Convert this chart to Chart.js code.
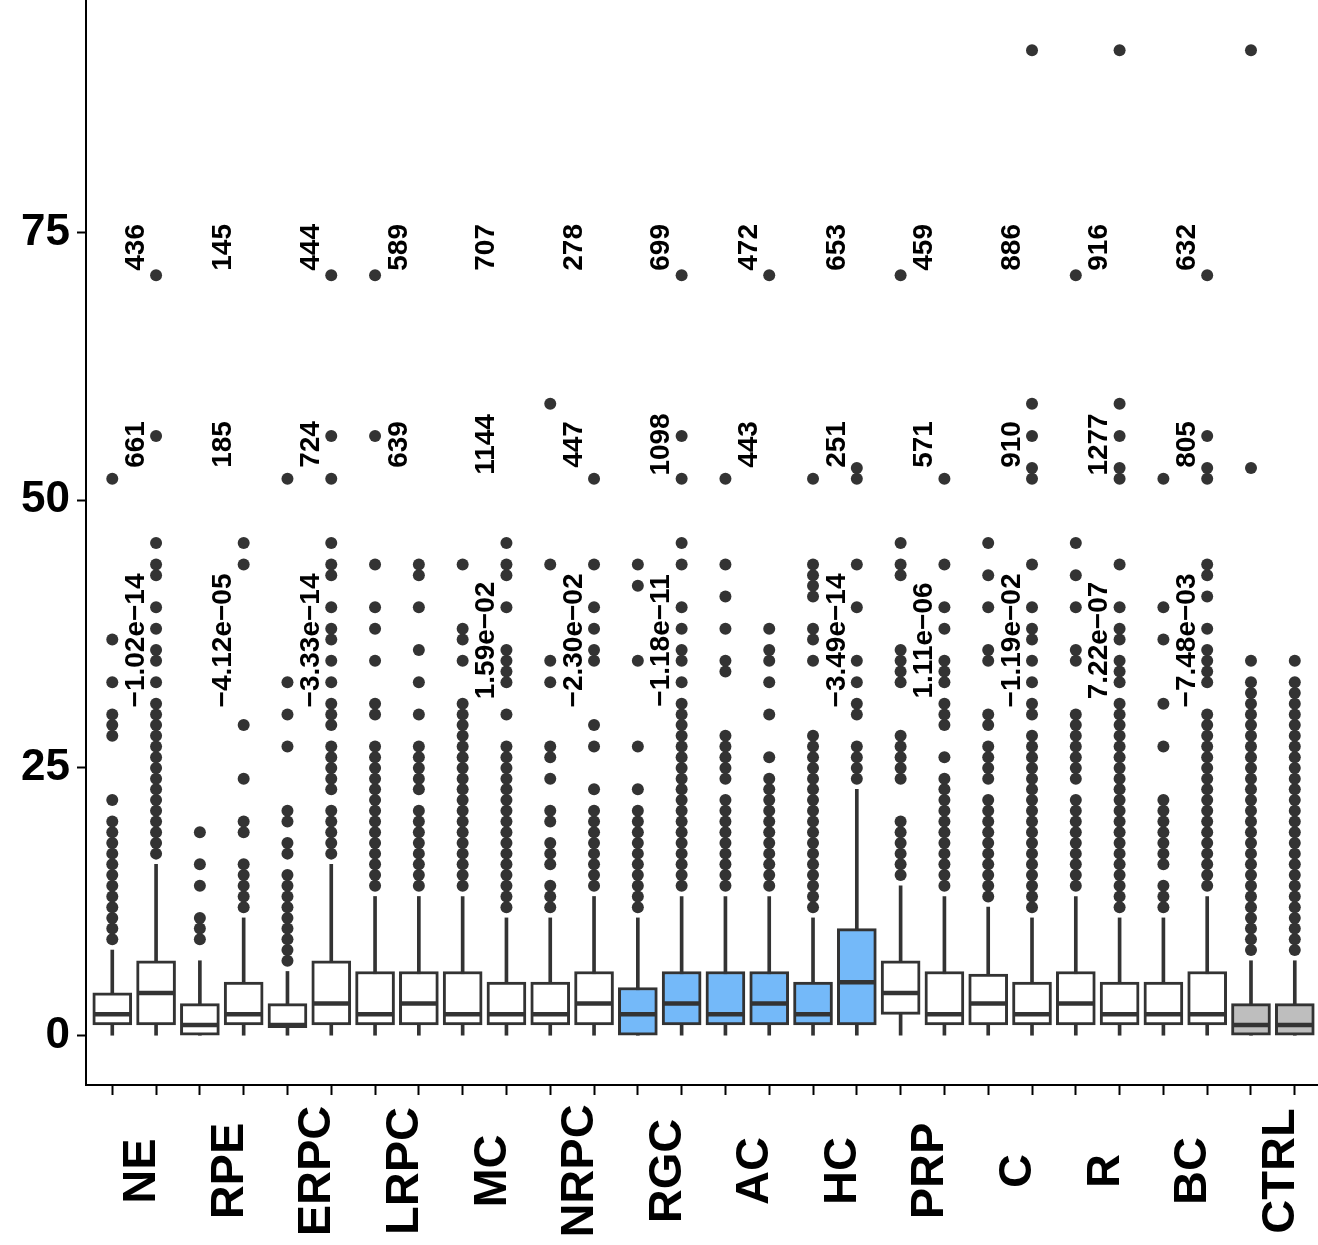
<!DOCTYPE html>
<html>
<head>
<meta charset="utf-8">
<script src="https://cdn.jsdelivr.net/npm/chart.js@4.4.0/dist/chart.umd.min.js"></script>
<style>
  html, body { margin: 0; padding: 0; background: #fff; }
  #wrap { width: 1318px; height: 1245px; }
</style>
</head>
<body>
<div id="wrap"><canvas id="boxChart" width="1318" height="1245"></canvas></div>
<script>
// Categories (each has two boxes)
const categories = ['NE', 'RPE', 'ERPC', 'LRPC', 'MC', 'NRPC', 'RGC', 'AC', 'HC', 'PRP', 'C', 'R', 'BC', 'CTRL'];

// Annotations per category
const countTop = [436, 145, 444, 589, 707, 278, 699, 472, 653, 459, 886, 916, 632, null];
const countMid = [661, 185, 724, 639, 1144, 447, 1098, 443, 251, 571, 910, 1277, 805, null];
const pLabels = ['\u22121.02e\u221214', '\u22124.12e\u221205', '\u22123.33e\u221214', null, '1.59e\u221202',
  '\u22122.30e\u221202', '\u22121.18e\u221211', null, '\u22123.49e\u221214', '1.11e\u221206',
  '\u22121.19e\u221202', '7.22e\u221207', '\u22127.48e\u221203', null];

// Box statistics, 28 boxes (two per category)
const whiskerLo = [0, 0, 0, 0, 0, 0, 0, 0, 0, 0, 0, 0, 0, 0, 0, 0, 0, 0, 0, 0, 0, 0, 0, 0, 0, 0, 0, 0];
const q1 =        [1, 1, 0, 1, 0.75, 1, 1, 1, 1, 1, 1, 1, 0, 1, 1, 1, 1, 1, 2, 1, 1, 1, 1, 1, 1, 1, 0, 0];
const medians =   [2, 4, 1, 2, 1, 3, 2, 3, 2, 2, 2, 3, 2, 3, 2, 3, 2, 5, 4, 2, 3, 2, 3, 2, 2, 2, 1, 1];
const q3 =        [4, 7, 3, 5, 3, 7, 6, 6, 6, 5, 5, 6, 4.5, 6, 6, 6, 5, 10, 7, 6, 5.75, 5, 6, 5, 5, 6, 3, 3];
const whiskerHi = [8, 16, 7, 11, 6, 16, 13, 13, 13, 11, 11, 13, 11, 13, 13, 13, 11, 23, 14, 13, 12, 11, 13, 11, 11, 13, 7, 7];
const boxGroup =  ['w', 'w', 'w', 'w', 'w', 'w', 'w', 'w', 'w', 'w', 'w', 'w', 'b', 'b', 'b', 'b', 'b', 'b',
  'w', 'w', 'w', 'w', 'w', 'w', 'w', 'w', 'g', 'g'];

const outliers = [
  [9, 10, 11, 12, 13, 14, 15, 16, 17, 18, 19, 20, 22, 28, 29, 30, 33, 37, 52],
  [17, 18, 19, 20, 21, 22, 23, 24, 25, 26, 27, 28, 29, 30, 31, 33, 35, 36, 38, 40, 43, 44, 46, 56, 71],
  [9, 10, 11, 14, 16, 19],
  [12, 13, 14, 15, 16, 19, 20, 24, 29, 44, 46],
  [7, 8, 9, 10, 11, 12, 13, 14, 15, 17, 18, 20, 21, 27, 30, 33, 52],
  [17, 18, 19, 20, 21, 23, 24, 25, 26, 27, 29, 30, 31, 33, 35, 37, 38, 40, 43, 44, 46, 52, 56, 71],
  [14, 15, 16, 17, 18, 19, 20, 21, 22, 23, 24, 25, 26, 27, 30, 31, 35, 38, 40, 44, 56, 71],
  [14, 15, 16, 17, 18, 19, 20, 21, 23, 24, 25, 26, 27, 30, 33, 36, 40, 43, 44],
  [14, 15, 16, 17, 18, 19, 20, 21, 22, 23, 24, 25, 26, 27, 28, 29, 30, 31, 35, 37, 38, 44],
  [12, 13, 14, 15, 16, 17, 18, 19, 20, 21, 22, 23, 24, 25, 26, 27, 30, 33, 34, 35, 36, 40, 43, 44, 46],
  [12, 13, 14, 16, 17, 18, 20, 21, 24, 26, 27, 33, 35, 44, 59],
  [14, 15, 16, 17, 18, 19, 20, 21, 23, 27, 29, 35, 36, 38, 40, 44, 52],
  [12, 13, 14, 15, 16, 17, 18, 19, 20, 21, 23, 27, 35, 42, 44],
  [14, 15, 16, 17, 18, 19, 20, 21, 22, 23, 24, 25, 26, 27, 28, 29, 30, 31, 33, 35, 36, 38, 40, 44, 46, 52, 56, 71],
  [14, 15, 16, 17, 18, 19, 20, 21, 22, 24, 25, 26, 27, 28, 34, 35, 38, 41, 44, 52],
  [14, 15, 16, 17, 18, 19, 20, 21, 22, 23, 24, 26, 30, 33, 35, 36, 38, 71],
  [12, 13, 14, 15, 16, 17, 18, 19, 20, 21, 22, 23, 24, 25, 26, 27, 28, 35, 37, 38, 41, 42, 43, 44, 52],
  [24, 25, 26, 27, 30, 31, 33, 35, 40, 44, 52, 53],
  [15, 16, 17, 18, 19, 20, 24, 25, 26, 27, 28, 33, 34, 35, 36, 43, 44, 46, 71],
  [14, 15, 16, 17, 18, 19, 20, 21, 22, 23, 24, 26, 29, 30, 31, 33, 34, 35, 38, 40, 44, 52],
  [13, 14, 15, 16, 17, 18, 19, 20, 21, 22, 24, 25, 26, 27, 29, 30, 35, 36, 40, 43, 46],
  [12, 13, 14, 15, 16, 17, 18, 19, 20, 21, 22, 23, 24, 25, 26, 27, 28, 30, 31, 33, 35, 37, 38, 40, 44, 52, 53, 56, 59, 92],
  [14, 15, 16, 17, 18, 19, 20, 21, 22, 24, 25, 26, 27, 28, 29, 30, 35, 36, 40, 43, 46, 71],
  [12, 13, 14, 15, 16, 17, 18, 19, 20, 21, 22, 23, 24, 25, 26, 27, 28, 29, 30, 31, 33, 34, 35, 37, 38, 40, 44, 52, 53, 56, 59, 92],
  [12, 13, 14, 16, 17, 18, 19, 20, 21, 22, 27, 31, 37, 40, 52],
  [14, 15, 16, 17, 18, 19, 20, 21, 22, 23, 24, 25, 26, 27, 28, 29, 30, 33, 34, 35, 36, 38, 41, 43, 44, 52, 53, 56, 71],
  [8, 9, 10, 11, 12, 13, 14, 15, 16, 17, 18, 19, 20, 21, 22, 23, 24, 25, 26, 27, 28, 29, 30, 31, 32, 33, 35, 53, 92],
  [8, 9, 10, 11, 12, 13, 14, 15, 16, 17, 18, 19, 20, 21, 22, 23, 24, 25, 26, 27, 28, 29, 30, 31, 32, 33, 35]
];

const yTicks = [0, 25, 50, 75];

// Styling
const fills = { w: '#FFFFFF', b: '#74B9F9', g: '#BEBEBE' };
const ink = '#333333';
const FONT = '"Liberation Sans", Arial, Helvetica, sans-serif';
const levelTop = 73.6, levelMid = 55.2, levelP = 36.9;

// Build library datasets from the arrays
const boxIdx = q1.map((_, i) => i);
const whiskerData = boxIdx.map(i => ({ x: i, y: [whiskerLo[i], whiskerHi[i]] }));
const boxData = boxIdx.map(i => ({ x: i, y: [q1[i], q3[i]] }));
const medianData = boxIdx.map(i => ({ x: i, y: medians[i] }));
const outlierData = [];
outliers.forEach((vals, i) => vals.forEach(v => outlierData.push({ x: i, y: v })));

// No automatic padding from scales, so the panel fills the canvas like the original
const noPad = s => { s.paddingTop = 0; s.paddingBottom = 0; s.paddingLeft = 0; s.paddingRight = 0; };

// Draw rotated annotations and category labels
const labelPlugin = {
  id: 'labelPlugin',
  afterDraw(chart) {
    const { ctx, scales: { x, y } } = chart;
    ctx.save();
    ctx.fillStyle = '#000';
    ctx.textAlign = 'center';
    ctx.textBaseline = 'middle';

    const rotText = (txt, px, py) => {
      ctx.save();
      ctx.translate(px, py);
      ctx.rotate(-Math.PI / 2);
      ctx.fillText(txt, 0, 0);
      ctx.restore();
    };

    ctx.font = 'bold 28px ' + FONT;
    categories.forEach((cat, c) => {
      const cx = x.getPixelForValue(2 * c + 0.5) + 2;
      if (countTop[c] != null) rotText(String(countTop[c]), cx, y.getPixelForValue(levelTop));
      if (countMid[c] != null) rotText(String(countMid[c]), cx, y.getPixelForValue(levelMid));
      if (pLabels[c] != null) rotText(pLabels[c], cx, y.getPixelForValue(levelP));
    });

    ctx.font = 'bold 47px ' + FONT;
    categories.forEach((cat, c) => {
      const cx = x.getPixelForValue(2 * c + 0.5) + 8;
      rotText(cat, cx, chart.chartArea.bottom + 86);
    });
    ctx.restore();
  }
};

new Chart(document.getElementById('boxChart'), {
  type: 'bar',
  data: {
    datasets: [
      {
        type: 'scatter',
        data: outlierData,
        pointRadius: 6,
        pointBackgroundColor: ink,
        pointBorderWidth: 0,
        order: 0
      },
      {
        type: 'scatter',
        data: medianData,
        pointStyle: 'line',
        pointRadius: 18.5,
        pointBorderColor: ink,
        pointBorderWidth: 4.5,
        order: 1
      },
      {
        data: boxData,
        backgroundColor: boxIdx.map(i => fills[boxGroup[i]]),
        borderColor: ink,
        borderWidth: 3,
        borderSkipped: false,
        barThickness: 39,
        grouped: false,
        order: 2
      },
      {
        data: whiskerData,
        backgroundColor: ink,
        borderWidth: 0,
        barThickness: 3,
        grouped: false,
        order: 3
      }
    ]
  },
  options: {
    responsive: false,
    animation: false,
    events: [],
    layout: { autoPadding: false, padding: { top: 1, right: 0, left: 0, bottom: 0 } },
    plugins: { legend: { display: false }, tooltip: { enabled: false } },
    scales: {
      x: {
        type: 'linear',
        offset: false,
        min: -0.6,
        max: 27.53,
        afterBuildTicks: s => { s.ticks = boxIdx.map(v => ({ value: v })); },
        afterFit: s => { s.height = 160; noPad(s); },
        ticks: { display: false },
        grid: { display: true, offset: false, drawOnChartArea: false, drawTicks: true, tickLength: 10, tickWidth: 2, tickColor: '#000' },
        border: { display: true, color: '#000', width: 2 }
      },
      y: {
        min: -4.6,
        max: 96.6,
        afterBuildTicks: s => { s.ticks = yTicks.map(v => ({ value: v })); },
        afterFit: s => { s.width = 86; noPad(s); },
        ticks: {
          color: '#000',
          padding: 7,
          font: { family: FONT, weight: 'bold', size: 44 }
        },
        grid: { display: true, offset: false, drawOnChartArea: false, drawTicks: true, tickLength: 9, tickWidth: 2, tickColor: '#000' },
        border: { display: true, color: '#000', width: 2 }
      }
    }
  },
  plugins: [labelPlugin]
});
</script>
</body>
</html>
